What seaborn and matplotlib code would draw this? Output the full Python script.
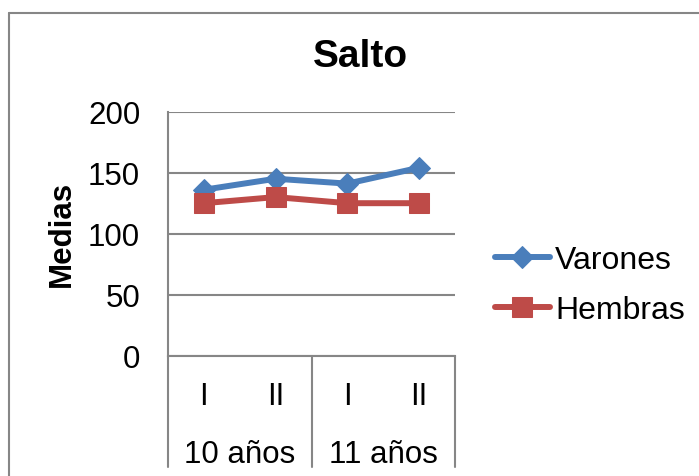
import matplotlib
matplotlib.use("Agg")
import matplotlib.pyplot as plt
import matplotlib.transforms as mtransforms
from matplotlib.lines import Line2D
import seaborn as sns
import pandas as pd

# Chart data
periods = ["I", "II", "I", "II"]
ages = ["10 años", "10 años", "11 años", "11 años"]
varones = [136, 145, 141, 154]
hembras = [125, 130, 125, 125]
y_ticks = [0, 50, 100, 150, 200]

sns.set_theme(style="white")
plt.rcParams["font.family"] = ["Liberation Sans", "DejaVu Sans"]
plt.rcParams["text.color"] = "black"
plt.rcParams["axes.labelcolor"] = "black"

keys = [f"{a} {p}" for a, p in zip(ages, periods)]
df = pd.DataFrame({
    "grupo": keys * 2,
    "media": varones + hembras,
    "sexo": ["Varones"] * 4 + ["Hembras"] * 4,
})

BLUE = "#4A7EBB"
RED = "#BE4B48"
GRID = "#868686"

fig = plt.figure(figsize=(6.99, 4.77), dpi=100)
W, H = 699, 477
ax = fig.add_axes([168 / W, 1 - 357 / H, (455 - 168) / W, (357 - 112.5) / H])

sns.lineplot(data=df[df.sexo == "Varones"], x="grupo", y="media", ax=ax,
             color=BLUE, marker="D", markersize=11, linewidth=4.3,
             markeredgecolor=BLUE, label="Varones", sort=False)
sns.lineplot(data=df[df.sexo == "Hembras"], x="grupo", y="media", ax=ax,
             color=RED, marker="s", markersize=14.5, linewidth=4.3,
             markeredgecolor=RED, label="Hembras", sort=False)

ax.set_xlim(-0.5, len(keys) - 0.5)
ax.set_ylim(0, 200)
ax.set_yticks(y_ticks)
ax.set_yticklabels([str(v) for v in y_ticks], fontsize=22.5, color="black")
ax.tick_params(axis="y", length=0, pad=20)
ax.set_xticks([])
ax.set_xlabel("")
ax.set_ylabel("")
ax.yaxis.grid(True, color=GRID, linewidth=1.5)
ax.set_axisbelow(True)
for side in ["top", "right"]:
    ax.spines[side].set_visible(False)
for side in ["left", "bottom"]:
    ax.spines[side].set_color(GRID)
    ax.spines[side].set_linewidth(1.5)

# Two-level category axis
trans = mtransforms.blended_transform_factory(ax.transData, ax.transAxes)
ax_h = 357 - 112.5
y_bot = -(468 - 357) / ax_h
y_per = -(397 - 357) / ax_h
y_age = -(455 - 357) / ax_h
for i, p in enumerate(periods):
    ax.text(i, y_per, p, transform=trans, ha="center", va="center",
            fontsize=22.5, color="black")
group_names = list(dict.fromkeys(ages))
start = 0
for g in group_names:
    n = ages.count(g)
    ax.text(start + (n - 1) / 2, y_age, g, transform=trans, ha="center",
            va="center", fontsize=22.5, color="black")
    start += n
edges = [-0.5]
start = 0
for g in group_names:
    start += ages.count(g)
    edges.append(start - 0.5)
for e in edges:
    ax.add_line(Line2D([e, e], [0, y_bot], transform=trans, color=GRID,
                       linewidth=1.5, clip_on=False))

fig.text(360 / W, 1 - 57 / H, "Salto", ha="center", va="center",
         fontsize=28, fontweight="bold", color="black")
fig.text(62 / W, 1 - 234 / H, "Medias", ha="center", va="center",
         rotation=90, fontsize=22.5, fontweight="bold", color="black")

ax.get_legend().remove()
handles, labels = ax.get_legend_handles_labels()
leg = fig.legend(handles, labels, loc="center left",
                 bbox_to_anchor=(495 / W, 1 - 286 / H), frameon=False,
                 fontsize=23, handlelength=1.72, handletextpad=0.16,
                 borderpad=0, borderaxespad=0, labelspacing=0.62)
for t in leg.get_texts():
    t.set_color("black")

# Chart area border
fig.add_artist(Line2D([9 / W, 9 / W], [0, 1 - 13.5 / H], transform=fig.transFigure,
                      color=GRID, linewidth=1.5))
fig.add_artist(Line2D([9 / W, 1], [1 - 13.5 / H, 1 - 13.5 / H],
                      transform=fig.transFigure, color=GRID, linewidth=1.5))

fig.savefig("out.png", dpi=100)
